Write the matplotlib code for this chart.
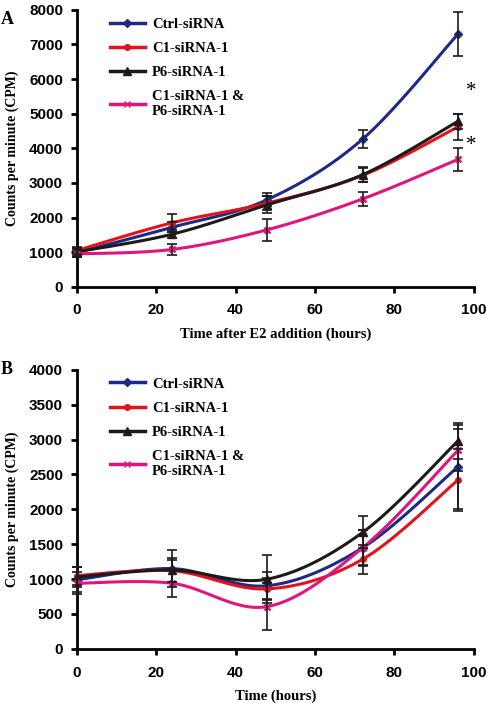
import matplotlib
matplotlib.use("Agg")
import matplotlib.pyplot as plt
import numpy as np

# time points (hours)
t = [0, 24, 48, 72, 96]
labels = ["Ctrl-siRNA", "C1-siRNA-1", "P6-siRNA-1", "C1-siRNA-1 &\nP6-siRNA-1"]

# panel A values / errors
a_ctrl = [990, 1720, 2520, 4270, 7300]
a_ctrl_err = [120, 150, 190, 260, 640]
a_c1 = [1050, 1850, 2420, 3220, 4620]
a_c1_err = [100, 265, 200, 200, 380]
a_p6 = [1010, 1520, 2370, 3240, 4780]
a_p6_err = [110, 120, 250, 220, 220]
a_combo = [950, 1080, 1650, 2540, 3680]
a_combo_err = [100, 170, 320, 210, 330]

# panel B values / errors
b_ctrl = [990, 1150, 905, 1450, 2610]
b_ctrl_err = [180, 260, 200, 250, 600]
b_c1 = [1050, 1120, 860, 1285, 2420]
b_c1_err = [130, 160, 150, 210, 450]
b_p6 = [1030, 1130, 1000, 1670, 2980]
b_p6_err = [150, 170, 340, 230, 260]
b_combo = [940, 940, 607, 1450, 2845]
b_combo_err = [160, 200, 340, 260, 300]

colors = ["#1c2a86", "#e3121b", "#1e1a1a", "#e0167f"]
markers = ["D", "o", "^", "x"]
msizes = [4, 4, 6, 5]

serif = "Liberation Serif"
sans = "Liberation Sans"


def smooth(x, y, n=30):
    # excel-style smoothed line (bezier through the points)
    x = np.asarray(x, float)
    y = np.asarray(y, float)
    px = np.concatenate([[x[0]], x, [x[-1]]])
    py = np.concatenate([[y[0]], y, [y[-1]]])
    xs, ys = [], []
    s = np.linspace(0, 1, n)
    for i in range(1, len(px) - 2):
        p0 = np.array([px[i], py[i]])
        p3 = np.array([px[i + 1], py[i + 1]])
        p1 = p0 + (np.array([px[i + 1], py[i + 1]]) - np.array([px[i - 1], py[i - 1]])) / 6
        p2 = p3 - (np.array([px[i + 2], py[i + 2]]) - np.array([px[i], py[i]])) / 6
        b = ((1 - s) ** 3)[:, None] * p0 + (3 * (1 - s) ** 2 * s)[:, None] * p1 \
            + (3 * (1 - s) * s ** 2)[:, None] * p2 + (s ** 3)[:, None] * p3
        xs.extend(b[:, 0])
        ys.extend(b[:, 1])
    return xs, ys


def panel(ax, series, errs, ymax, ystep, xlabel):
    for k in range(4):
        xs, ys = smooth(t, series[k])
        ax.plot(xs, ys, color=colors[k], lw=2.2, zorder=3 + k)
        ax.plot(t, series[k], ls="none", marker=markers[k], ms=msizes[k], mew=1.8 if markers[k] == "x" else 1,
                color=colors[k], zorder=3 + k, clip_on=False)
        ax.plot([], [], color=colors[k], lw=2.5, marker=markers[k], ms=msizes[k], label=labels[k])
        ax.errorbar(t, series[k], yerr=errs[k], fmt="none", ecolor="#1e1a1a", elinewidth=1.2,
                    capsize=3.5, capthick=1.2, zorder=8, clip_on=False)
    ax.set_xlim(0, 100)
    ax.set_ylim(0, ymax)
    ax.set_xticks(range(0, 101, 20))
    ax.set_yticks(range(0, ymax + 1, ystep))
    for s in ["top", "right"]:
        ax.spines[s].set_visible(False)
    for s in ["left", "bottom"]:
        ax.spines[s].set_linewidth(2)
    ax.tick_params(width=2, length=4, direction="out")
    ax.tick_params(axis="x", pad=8)
    ax.tick_params(axis="y", pad=6)
    for lb in ax.get_xticklabels() + ax.get_yticklabels():
        lb.set_fontfamily(sans)
        lb.set_fontweight("bold")
        lb.set_fontsize(11)
    ax.set_xlabel(xlabel, fontfamily=serif, fontweight="bold", fontsize=10.5, labelpad=7)
    ax.set_ylabel("Counts per minute (CPM)", fontfamily=serif, fontweight="bold", fontsize=10, labelpad=7)
    leg = ax.legend(loc="upper left", bbox_to_anchor=(0.05, 1.02), frameon=False, handlelength=2.4,
                    handletextpad=0.5, labelspacing=0.75,
                    prop={"family": serif, "weight": "bold", "size": 10.5})
    return leg


fig = plt.figure(figsize=(4.87, 7.03), dpi=100)
ax1 = fig.add_axes([0.158, 0.592, 0.815, 0.394])
ax2 = fig.add_axes([0.158, 0.077, 0.815, 0.397])

panel(ax1, [a_ctrl, a_c1, a_p6, a_combo], [a_ctrl_err, a_c1_err, a_p6_err, a_combo_err], 8000, 1000,
      "Time after E2 addition (hours)")
panel(ax2, [b_ctrl, b_c1, b_p6, b_combo], [b_ctrl_err, b_c1_err, b_p6_err, b_combo_err], 4000, 500,
      "Time (hours)")

ax1.text(99.3, 5650, "*", fontsize=15, fontfamily=serif, ha="center", va="center")
ax1.text(99.3, 4080, "*", fontsize=15, fontfamily=serif, ha="center", va="center")

fig.text(0.002, 0.985, "A", fontfamily=serif, fontweight="bold", fontsize=13, va="top")
fig.text(0.002, 0.487, "B", fontfamily=serif, fontweight="bold", fontsize=13, va="top")

fig.savefig("out.png", dpi=100)
